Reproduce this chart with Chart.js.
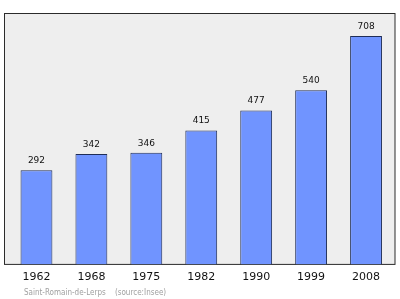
<!DOCTYPE html>
<html>
<head>
<meta charset="utf-8">
<script src="https://cdn.jsdelivr.net/npm/chart.js@4.4.0/dist/chart.umd.min.js"></script>
<style>
  body { margin: 0; background: #fff; }
  #wrap { width: 400px; height: 299px; }
</style>
</head>
<body>
<div id="wrap"><canvas id="pop-chart" width="400" height="299"></canvas></div>
<script>
const years = ["1962", "1968", "1975", "1982", "1990", "1999", "2008"];
const population = [292, 342, 346, 415, 477, 540, 708];
const footerText = "Saint-Romain-de-Lerps    (source:Insee)";

// plot background + frame, drawn before the bars
const framePlugin = {
    id: "frame",
    beforeDatasetsDraw: function (chart) {
        const ctx = chart.ctx;
        const a = chart.chartArea;
        ctx.save();
        ctx.fillStyle = "#eeeeee";
        ctx.fillRect(a.left - 4.5, a.top, a.right - a.left + 6, a.bottom - a.top);
        ctx.strokeStyle = "#2b2b2b";
        ctx.lineWidth = 1;
        ctx.strokeRect(a.left - 4.5, a.top - 0.5, a.right - a.left + 6, a.bottom - a.top + 0.5);
        ctx.restore();
    },
    afterDatasetsDraw: function (chart) {
        const ctx = chart.ctx;
        const meta = chart.getDatasetMeta(0);
        ctx.save();
        ctx.fillStyle = "#111";
        ctx.font = "9px 'DejaVu Sans'";
        ctx.textAlign = "center";
        ctx.textBaseline = "alphabetic";
        meta.data.forEach(function (bar, i) {
            ctx.fillText(String(population[i]), bar.x, bar.y - 7);
        });
        // source line under the axis
        ctx.fillStyle = "#a0a0a0";
        ctx.font = "8px 'DejaVu Sans Condensed', 'DejaVu Sans'";
        ctx.textAlign = "left";
        ctx.fillText(footerText, 24, 295);
        ctx.restore();
    }
};

new Chart(document.getElementById("pop-chart"), {
    type: "bar",
    data: {
        labels: years,
        datasets: [{
            data: population,
            backgroundColor: "#7094ff",
            borderColor: "#1f2d57",
            borderWidth: 1,
            barPercentage: 0.58,
            categoryPercentage: 1
        }]
    },
    options: {
        responsive: false,
        animation: false,
        layout: { padding: { left: 9, right: 6.5, top: 14, bottom: 9.4 } },
        plugins: {
            legend: { display: false },
            tooltip: { enabled: false }
        },
        scales: {
            x: {
                grid: { display: false, drawTicks: false },
                border: { display: false },
                ticks: {
                    color: "#111",
                    padding: 6,
                    font: { family: "'DejaVu Sans'", size: 11 }
                }
            },
            y: {
                display: false,
                min: 0,
                max: 776
            }
        }
    },
    plugins: [framePlugin]
});
</script>
</body>
</html>
